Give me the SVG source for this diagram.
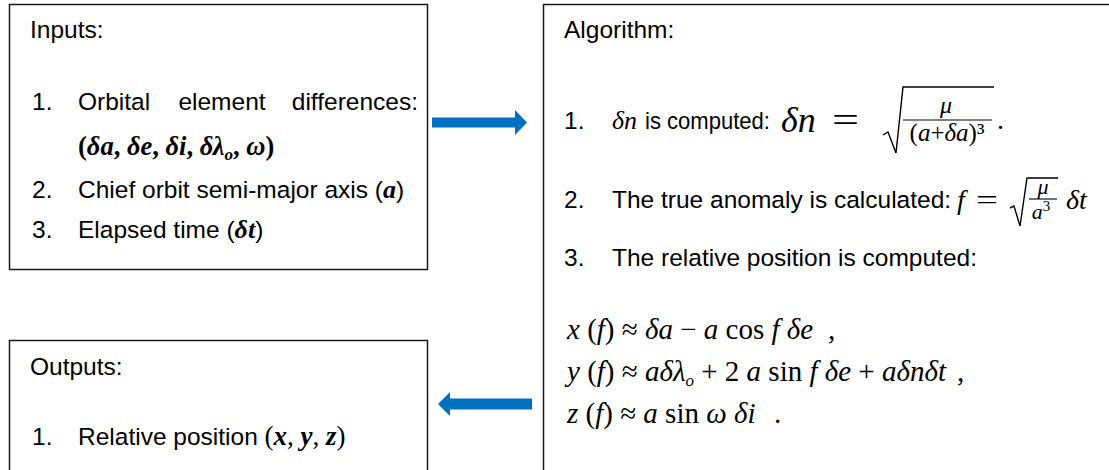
<svg xmlns="http://www.w3.org/2000/svg" width="1109" height="470" viewBox="0 0 1109 470">
<style>
.box{fill:#fff;stroke:#1a1a1a;stroke-width:1.5}
.t{font-family:"Liberation Sans",Arial,sans-serif;font-size:24.5px;fill:#000}
.m{font-family:"Liberation Serif","Times New Roman",serif;fill:#000}
.eq{font-size:29px}
.i{font-style:italic}
.bi{font-style:italic;font-weight:bold}
.b{font-weight:bold}
.arrow{fill:#0070C0}
.rad{fill:none;stroke:#000;stroke-width:1.4}
</style>
<rect width="1109" height="470" fill="#fff"/>
<g id="inputs">
<rect class="box" x="9.5" y="4.5" width="418" height="265"/>
<text class="t" x="30" y="38">Inputs:</text>
<text class="t" x="32" y="110">1.</text>
<text class="t" x="78" y="110">Orbital</text>
<text class="t" x="222" y="110" text-anchor="middle">element</text>
<text class="t" x="418" y="110" text-anchor="end">differences:</text>
<text class="m b" x="78" y="155" font-size="26.5">(<tspan class="bi">δa</tspan>, <tspan class="bi">δe</tspan>, <tspan class="bi">δi</tspan>, <tspan class="bi">δλ</tspan><tspan class="bi" font-size="17" dy="5">o</tspan><tspan dy="-5">, </tspan><tspan class="bi">ω</tspan>)</text>
<text class="t" x="32" y="198">2.</text>
<text class="t" x="78" y="198">Chief orbit semi-major axis (<tspan class="m bi" font-size="26">a</tspan>)</text>
<text class="t" x="32" y="238">3.</text>
<text class="t" x="78" y="238">Elapsed time (<tspan class="m bi" font-size="26">δt</tspan>)</text>
</g>
<g id="algorithm">
<rect class="box" x="543.5" y="4.5" width="600" height="500"/>
<text class="t" x="564" y="38">Algorithm:</text>
<text class="t" x="564" y="129">1.</text>
<text class="m i" x="612" y="129" font-size="26">δn</text>
<text class="t" x="645" y="129" textLength="125" lengthAdjust="spacingAndGlyphs">is computed:</text>
<text class="m i" x="781" y="132" font-size="36">δn</text>
<text class="m" x="832" y="132" font-size="36" textLength="27" lengthAdjust="spacingAndGlyphs">=</text>
<path class="rad" d="M883,135 L888,132 L896,153 L903,87 L994,87"/>
<text class="m i" x="946" y="113" font-size="24" text-anchor="middle">μ</text>
<line x1="903" y1="120" x2="992" y2="120" stroke="#000" stroke-width="1.2"/>
<text class="m" x="947" y="141" font-size="25" text-anchor="middle">(<tspan class="i">a</tspan>+<tspan class="i">δa</tspan>)³</text>
<text class="m" x="997" y="129" font-size="28">.</text>
<text class="t" x="564" y="208">2.</text>
<text class="t" x="612" y="208">The true anomaly is calculated:</text>
<text class="m i" x="957" y="209" font-size="28">f</text>
<text class="m" x="976" y="209" font-size="28" textLength="22" lengthAdjust="spacingAndGlyphs">=</text>
<path class="rad" d="M1010,208 L1014,206 L1020,226 L1027,178 L1058,178"/>
<text class="m i" x="1043" y="194" font-size="22" text-anchor="middle">μ</text>
<line x1="1029" y1="199" x2="1057" y2="199" stroke="#000" stroke-width="1.1"/>
<text class="m i" x="1041" y="219" font-size="22" text-anchor="middle">a<tspan font-style="normal" font-size="15" dy="-8">3</tspan></text>
<text class="m i" x="1066" y="209" font-size="28">δt</text>
<text class="t" x="564" y="266">3.</text>
<text class="t" x="612" y="266">The relative position is computed:</text>
<text class="m eq" x="567" y="339"><tspan class="i">x</tspan> (<tspan class="i">f</tspan>) ≈ <tspan class="i">δa</tspan> − <tspan class="i">a</tspan> cos <tspan class="i">f</tspan> <tspan class="i">δe</tspan><tspan x="828">,</tspan></text>
<text class="m eq" x="567" y="381"><tspan class="i">y</tspan> (<tspan class="i">f</tspan>) ≈ <tspan class="i">aδλ</tspan><tspan class="i" font-size="17" dy="5">o</tspan><tspan dy="-5"> + 2 </tspan><tspan class="i">a</tspan> sin <tspan class="i">f</tspan> <tspan class="i">δe</tspan> + <tspan class="i">aδnδt</tspan><tspan x="957">,</tspan></text>
<text class="m eq" x="567" y="423"><tspan class="i">z</tspan> (<tspan class="i">f</tspan>) ≈ <tspan class="i">a</tspan> sin <tspan class="i">ω</tspan> <tspan class="i">δi</tspan><tspan x="774">.</tspan></text>
</g>
<g id="outputs">
<rect class="box" x="9.5" y="340.5" width="418" height="160"/>
<text class="t" x="30" y="375">Outputs:</text>
<text class="t" x="32" y="445">1.</text>
<text class="t" x="78" y="445">Relative position <tspan class="m" font-size="27">(<tspan class="bi">x</tspan>, <tspan class="bi">y</tspan>, <tspan class="bi">z</tspan>)</tspan></text>
</g>
<g id="connectors">
<polygon class="arrow" points="432,117.5 515,117.5 515,110 527,122.5 515,135 515,127.5 432,127.5"/>
<polygon class="arrow" points="532,398.5 450,398.5 450,392 438,404 450,416 450,409.5 532,409.5"/>
</g>
</svg>
